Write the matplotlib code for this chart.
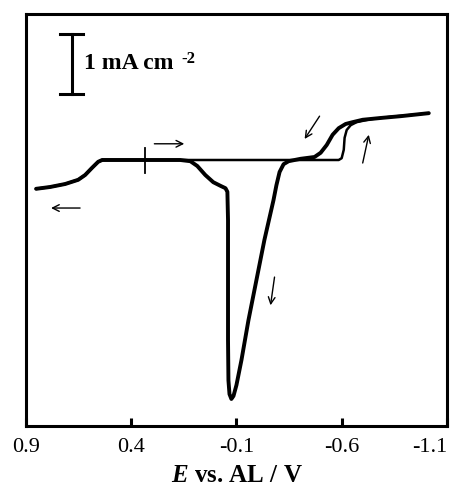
import matplotlib
matplotlib.use('Agg')
import matplotlib.pyplot as plt

# cyclic voltammogram: E / V vs. AL, j / mA cm-2 (0 = flat baseline)
# negative-going scan, starting at the rest potential
E_neg = [0.333, 0.167, -0.167, -0.400, -0.586, -0.600, -0.610, -0.614, -0.624, -0.643,
         -0.671, -0.738, -0.833, -0.929, -1.014]
j_neg = [0.0, 0.0, 0.0, 0.0, 0.0, 0.03, 0.17, 0.37, 0.50, 0.58,
         0.63, 0.68, 0.72, 0.75, 0.78]

# positive-going scan, through the big stripping peak
E_pos = [-1.014, -0.881, -0.786, -0.700, -0.652, -0.619, -0.586, -0.557, -0.529, -0.500,
         -0.471, -0.405, -0.348, -0.324, -0.305, -0.290, -0.276, -0.233, -0.195, -0.157,
         -0.124, -0.100, -0.086, -0.076, -0.067, -0.062, -0.060, -0.060, -0.060, -0.057,
         -0.048, -0.024, 0.010, 0.048, 0.086, 0.119, 0.167, 0.333, 0.538, 0.557,
         0.586, 0.619, 0.652, 0.714, 0.786, 0.852]
j_pos = [0.78, 0.73, 0.70, 0.67, 0.63, 0.60, 0.53, 0.42, 0.25, 0.12,
         0.05, 0.02, -0.02, -0.07, -0.20, -0.42, -0.67, -1.33, -2.00, -2.67,
         -3.33, -3.75, -3.93, -3.98, -3.90, -3.67, -3.00, -2.00, -1.00, -0.53,
         -0.47, -0.43, -0.37, -0.25, -0.10, -0.02, 0.0, 0.0, 0.0, -0.03,
         -0.13, -0.25, -0.33, -0.40, -0.45, -0.48]

# back to the start
E_ret = [0.852, 0.786, 0.714, 0.652, 0.619, 0.586, 0.557, 0.538, 0.333]
j_ret = [-0.48, -0.45, -0.40, -0.33, -0.25, -0.13, -0.03, 0.0, 0.0]

xticks = [0.9, 0.4, -0.1, -0.6, -1.1]
xticklabels = ['0.9', '0.4', '-0.1', '-0.6', '-1.1']

plt.rcParams['font.family'] = ['Liberation Serif', 'DejaVu Serif']
plt.rcParams['mathtext.fontset'] = 'custom'
plt.rcParams['mathtext.it'] = 'Liberation Serif:italic:bold'
plt.rcParams['mathtext.rm'] = 'Liberation Serif:bold'

fig = plt.figure(figsize=(4.56, 4.86), dpi=100)
ax = fig.add_axes([0.057, 0.1235, 0.923, 0.8475])

ax.plot(E_neg, j_neg, color='black', lw=1.8, solid_capstyle='round')
ax.plot(E_pos, j_pos, color='black', lw=2.8, solid_joinstyle='round', solid_capstyle='round')
ax.plot(E_ret, j_ret, color='black', lw=2.0, solid_capstyle='round')

# start marker
ax.plot([0.333, 0.333], [0.2, -0.22], color='black', lw=1.3)

# scan direction arrows
arrows = [((0.290, 0.27), (0.148, 0.27)),
          ((0.643, -0.80), (0.781, -0.80)),
          ((-0.495, 0.73), (-0.424, 0.35)),
          ((-0.700, -0.05), (-0.729, 0.42)),
          ((-0.281, -1.95), (-0.262, -2.42))]
for tail, tip in arrows:
    ax.annotate('', xy=tip, xytext=tail,
                arrowprops=dict(arrowstyle='->', color='black', lw=1.0,
                                mutation_scale=12, shrinkA=0, shrinkB=0))

# scale bar 1 mA cm-2
ax.plot([0.681, 0.681], [1.1, 2.1], color='black', lw=2.2)
ax.plot([0.738, 0.629], [2.1, 2.1], color='black', lw=2.2)
ax.plot([0.738, 0.629], [1.1, 1.1], color='black', lw=2.2)
ax.text(0.624, 1.6, '1 mA cm', fontsize=17, fontweight='bold', va='center', ha='left')
ax.text(0.16, 1.68, '-2', fontsize=12, fontweight='bold', va='center', ha='left')

ax.set_xlim(0.9, -1.1)
ax.set_ylim(-4.43, 2.43)
ax.set_xticks(xticks)
ax.set_xticklabels(xticklabels)
ax.get_xticklabels()[-1].set_ha('right')
ax.set_yticks([])
ax.tick_params(axis='x', direction='in', length=6, width=2.2, labelsize=16, pad=9)
for s in ax.spines.values():
    s.set_linewidth(2.2)

ax.set_xlabel(r'$E$ vs. AL / V', fontsize=18, fontweight='bold', labelpad=5)

fig.savefig('out.png', dpi=100)
